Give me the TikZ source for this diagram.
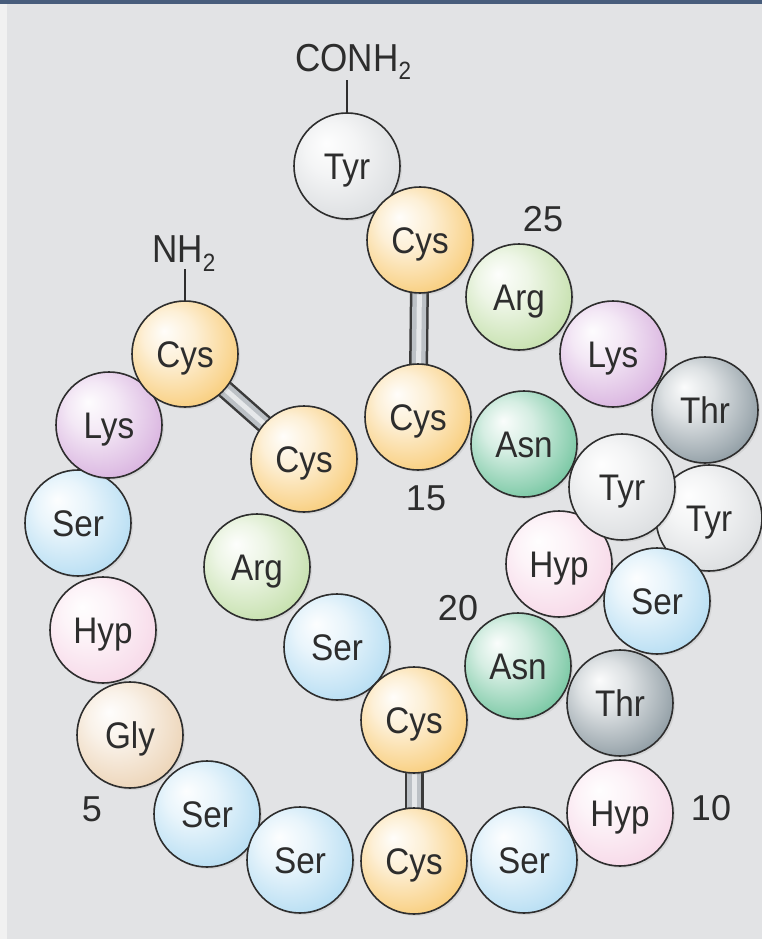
\documentclass[tikz,border=0pt]{standalone}
\usepackage{fontspec}
\setmainfont{Liberation Sans}
\newfontfamily\aafam{Liberation Sans}[FakeStretch=0.9]
\usetikzlibrary{shadows}
\pgfdeclarelayer{back}
\pgfdeclarelayer{bond}
\pgfsetlayers{back,bond,main}
\colorlet{aacol}{white}
\pgfdeclareradialshading[aacol]{aashade}{\pgfpoint{-10bp}{11bp}}{color(0bp)=(aacol!3!white); color(12bp)=(aacol!25!white); color(26bp)=(aacol!65!white); color(37bp)=(aacol); color(50bp)=(aacol)}
\definecolor{cCys}{HTML}{F7C25E}
\definecolor{cSer}{HTML}{A6D6F0}
\definecolor{cHyp}{HTML}{F5D0E3}
\definecolor{cGly}{HTML}{E8CAA6}
\definecolor{cLys}{HTML}{D0A2D8}
\definecolor{cArg}{HTML}{B8D99A}
\definecolor{cAsn}{HTML}{58BA8D}
\definecolor{cThr}{HTML}{76868F}
\definecolor{cTyr}{HTML}{D3D6D9}
\definecolor{bgc}{HTML}{E2E3E5}
\definecolor{stripc}{HTML}{F1F1F1}
\definecolor{barc}{HTML}{485D7C}
\definecolor{outl}{HTML}{2E2E2E}
\definecolor{txt}{HTML}{2D2D2D}
\definecolor{bondout}{HTML}{3A3A3A}
\definecolor{bondin}{HTML}{BCC1C6}
\definecolor{bondhi}{HTML}{E6E8EA}
\tikzset{
  aa/.style={circle, draw=outl, line width=1.6pt, minimum size=106pt, inner sep=0pt,
    text height=27pt, text depth=0pt, text=txt,
    font=\aafam\fontsize{37}{40}\selectfont,
    drop shadow={opacity=0.15, shadow xshift=2pt, shadow yshift=-2pt},
    shading=aashade, /utils/exec={\colorlet{aacol}{#1}}},
  numlab/.style={text=txt, inner sep=0pt, anchor=base, font=\fontsize{36}{40}\selectfont},
  termlab/.style={text=txt, inner sep=0pt, anchor=base west, font=\aafam\fontsize{39}{42}\selectfont},
  termline/.style={draw=outl, line width=1.6pt},
  bondo/.style={draw=bondout, line width=19pt, line cap=butt},
  bondi/.style={draw=bondin, line width=14pt, line cap=butt},
  bondh/.style={draw=bondhi, line width=5pt, line cap=butt}
}
\begin{document}
\begin{tikzpicture}[x=1pt,y=-1pt]
\useasboundingbox (0,0) rectangle (762,939);
\begin{pgfonlayer}{back}
  \fill[bgc] (0,0) rectangle (762,939);
  \fill[stripc] (0,0) rectangle (7,939);
  \fill[barc] (0,0) rectangle (762,4.5);
\end{pgfonlayer}
% residues
\node[aa=cSer] (s3) at (78,523) {Ser};
\node[aa=cLys] (k2) at (109,425) {Lys};
\node[aa=cCys] (c1) at (185,354) {Cys};
\node[aa=cHyp] (o4) at (103,630) {Hyp};
\node[aa=cGly] (g5) at (130,735) {Gly};
\node[aa=cSer] (s6) at (207,814) {Ser};
\node[aa=cSer] (s7) at (300,860) {Ser};
\node[aa=cCys] (c8) at (414,861) {Cys};
\node[aa=cHyp] (o10) at (620,813) {Hyp};
\node[aa=cSer] (s9) at (524,860) {Ser};
\node[aa=cTyr] (y27) at (347,166) {Tyr};
\node[aa=cCys] (c26) at (420,240) {Cys};
\node[aa=cArg] (r25) at (519,297) {Arg};
\node[aa=cLys] (k24) at (613,354) {Lys};
\node[aa=cThr] (t23) at (705,410) {Thr};
\node[aa=cTyr] (y13) at (709,518) {Tyr};
\node[aa=cHyp] (o21) at (559,564) {Hyp};
\node[aa=cAsn] (n14) at (524,444) {Asn};
\node[aa=cCys] (c15) at (418,417) {Cys};
\node[aa=cTyr] (y22) at (622,487) {Tyr};
\node[aa=cSer] (s12) at (657,601) {Ser};
\node[aa=cAsn] (n20) at (518,666) {Asn};
\node[aa=cThr] (t11) at (620,703) {Thr};
\node[aa=cCys] (c16) at (304,459) {Cys};
\node[aa=cArg] (r17) at (257,567) {Arg};
\node[aa=cSer] (s18) at (337,647) {Ser};
\node[aa=cCys] (c19) at (414,720) {Cys};
% disulfide bonds
\begin{pgfonlayer}{bond}
  \foreach \a/\b in {c1/c16, c15/c26, c8/c19}{
    \draw[bondo] (\a.center) -- (\b.center);
    \draw[bondi] (\a.center) -- (\b.center);
    \draw[bondh] (\a.center) -- (\b.center);
  }
\end{pgfonlayer}
% termini
\node[termlab] (conh) at (295,72) {CONH\raisebox{-8pt}{\fontsize{25}{25}\selectfont 2}};
\node[termlab] (nh) at (152,262) {NH\raisebox{-9pt}{\fontsize{25}{25}\selectfont 2}};
\draw[termline] (y27.north) -- (y27.north |- conh.south);
\draw[termline] (c1.north) -- ++(0,-31) coordinate (nhend);
% residue numbers
\node[numlab] (n25) at (543,231) {25};
\node[numlab] (n15) at (426,510) {15};
\node[numlab] (n20l) at (458,620) {20};
\node[numlab] (n10) at (711,820) {10};
\node[numlab] (n5) at (92,821) {5};
\end{tikzpicture}
\end{document}
